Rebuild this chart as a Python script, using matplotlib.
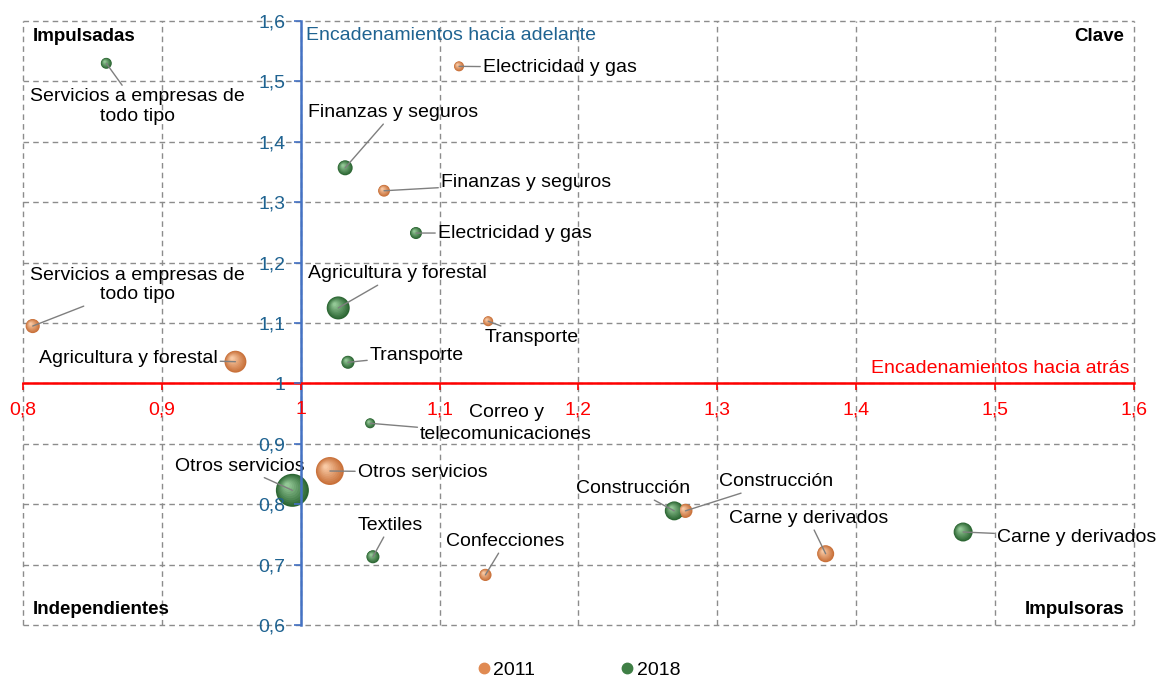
import numpy as np
import matplotlib
matplotlib.use("Agg")
import matplotlib.pyplot as plt
from matplotlib.lines import Line2D
from matplotlib.colors import to_rgb
from matplotlib.transforms import offset_copy

plt.rcParams['font.family'] = ['Liberation Sans', 'DejaVu Sans']

# datos 2011 (naranja)
sect_2011 = ["Servicios a empresas de\ntodo tipo", "Agricultura y forestal", "Electricidad y gas",
             "Finanzas y seguros", "Transporte", "Otros servicios", "Confecciones",
             "Construcción", "Carne y derivados"]
atras_2011 = [0.807, 0.953, 1.114, 1.060, 1.135, 1.021, 1.133, 1.277, 1.378]
adelante_2011 = [1.095, 1.036, 1.525, 1.319, 1.103, 0.855, 0.683, 0.789, 0.718]
peso_2011 = [2.0, 4.8, 1.0, 1.4, 1.0, 7.8, 1.5, 2.0, 2.9]

# datos 2018 (verde)
sect_2018 = ["Servicios a empresas de\ntodo tipo", "Finanzas y seguros", "Electricidad y gas",
             "Agricultura y forestal", "Transporte", "Correo y\ntelecomunicaciones",
             "Otros servicios", "Textiles", "Construcción", "Carne y derivados"]
atras_2018 = [0.860, 1.032, 1.083, 1.027, 1.034, 1.050, 0.994, 1.052, 1.269, 1.477]
adelante_2018 = [1.530, 1.357, 1.249, 1.125, 1.035, 0.934, 0.823, 0.713, 0.789, 0.754]
peso_2018 = [1.2, 2.25, 1.44, 5.3, 1.7, 1.0, 10.9, 1.7, 3.6, 3.6]

xticks = [0.8, 0.9, 1.0, 1.1, 1.2, 1.3, 1.4, 1.5, 1.6]
yticks = [0.6, 0.7, 0.8, 0.9, 1.0, 1.1, 1.2, 1.3, 1.4, 1.5, 1.6]

# posiciones de etiquetas (offset en pixeles, alineacion)
lab_2011 = [(105, 41, 'center'), (-18, 3, 'right'), (24, -1, 'left'), (57, 8, 'left'),
            (43, -16, 'center'), (28, -1, 'left'), (20, 33, 'center'), (34, 29, 'left'),
            (-17, 35, 'center')]
lab_2018 = [(31, -43, 'center'), (48, 55, 'center'), (22, 0, 'left'), (59, 34, 'center'),
            (22, 7, 'left'), (136, 0, 'center'), (-53, 24, 'center'), (17, 31, 'center'),
            (-41, 22, 'center'), (34, -5, 'left')]

ORANGE = ("#C9713A", "#F8C9A4")
GREEN = ("#2C6633", "#93C896")


def fmt(v):
    s = ("%.1f" % v).replace(".", ",")
    return "1" if s == "1,0" else s


def bubbles(ax, xs, ys, ws, colors):
    dark = np.array(to_rgb(colors[0]))
    light = np.array(to_rgb(colors[1]))
    n = 10
    for x, y, w in zip(xs, ys, ws):
        d = np.sqrt(w * 51.84)  # diametro en puntos
        for k in range(n):
            f = k / (n - 1)
            c = dark * (1 - f) + light * f
            dk = d * (1 - 0.85 * f)
            off = (d - dk) * 0.18
            tr = offset_copy(ax.transData, fig=ax.figure, x=-off, y=off, units='points')
            ax.scatter([x], [y], s=dk ** 2, color=c, edgecolors='none',
                       transform=tr, zorder=5 + k * 0.01)


fig = plt.figure(figsize=(11.61, 6.79), dpi=100)
ax = fig.add_axes([0.0198, 0.0795, 0.9569, 0.8895])
ax.set_xlim(0.8, 1.6)
ax.set_ylim(0.6, 1.6)

ax.set_xticks(xticks)
ax.set_yticks(yticks)
ax.set_xticklabels([fmt(v) for v in xticks])
ax.set_yticklabels([fmt(v) for v in yticks])

# cuadricula punteada
for v in xticks:
    ax.axvline(v, color="#8c8c8c", linestyle=(0, (4, 3)), linewidth=1.0, zorder=1, clip_on=False)
for v in yticks:
    ax.axhline(v, color="#8c8c8c", linestyle=(0, (4, 3)), linewidth=1.0, zorder=1, clip_on=False)

for sp in ['top', 'right']:
    ax.spines[sp].set_visible(False)
ax.spines['left'].set_position(('data', 1.0))
ax.spines['bottom'].set_position(('data', 1.0))
ax.spines['left'].set_color("#4472C4")
ax.spines['left'].set_linewidth(1.8)
ax.spines['bottom'].set_color("#FF0000")
ax.spines['bottom'].set_linewidth(1.8)
ax.spines['left'].set_zorder(20)
ax.spines['bottom'].set_zorder(20)
ax.xaxis.set_zorder(21)
ax.yaxis.set_zorder(21)
ax.tick_params(axis='y', colors="#4472C4", labelcolor="#1F6391", labelsize=14, length=5, width=1.2, pad=6)
ax.tick_params(axis='x', colors="#FF0000", labelcolor="#FF0000", labelsize=14, length=5, width=1.2, pad=8)

bubbles(ax, atras_2011, adelante_2011, peso_2011, ORANGE)
bubbles(ax, atras_2018, adelante_2018, peso_2018, GREEN)

for names, xs, ys, labs in [(sect_2011, atras_2011, adelante_2011, lab_2011),
                            (sect_2018, atras_2018, adelante_2018, lab_2018)]:
    for name, x, y, (dx, dy, ha) in zip(names, xs, ys, labs):
        if name.startswith("Correo"):
            # dos lineas separadas para no tapar las etiquetas del eje
            top, bottom = name.split("\n")
            ax.annotate(top, xy=(x, y), xytext=(dx, dy + 11), textcoords='offset pixels',
                        ha='center', va='center', fontsize=14, zorder=8)
            ax.annotate(bottom, xy=(x, y), xytext=(dx, dy - 11), textcoords='offset pixels',
                        ha='center', va='center', fontsize=14, zorder=8,
                        arrowprops=dict(arrowstyle='-', color='#7f7f7f', lw=1.0,
                                        shrinkA=0, shrinkB=0, relpos=(0, 0.9)))
            continue
        ax.annotate(name, xy=(x, y), xytext=(dx, dy), textcoords='offset pixels',
                    ha=ha, va='center', fontsize=14, multialignment='center', zorder=8,
                    arrowprops=dict(arrowstyle='-', color='#7f7f7f', lw=1.0,
                                    shrinkA=0, shrinkB=0))

ax.text(1.004, 1.59, "Encadenamientos hacia adelante", color="#1F6391", fontsize=14,
        ha='left', va='top')
ax.text(1.597, 1.01, "Encadenamientos hacia atrás", color="#FF0000", fontsize=14,
        ha='right', va='bottom')

ax.text(0.807, 1.575, "Impulsadas", fontsize=13.5, fontweight='bold', ha='left', va='center')
ax.text(1.593, 1.575, "Clave", fontsize=13.5, fontweight='bold', ha='right', va='center')
ax.text(0.807, 0.625, "Independientes", fontsize=13.5, fontweight='bold', ha='left', va='center')
ax.text(1.593, 0.625, "Impulsoras", fontsize=13.5, fontweight='bold', ha='right', va='center')

handles = [Line2D([], [], marker='o', linestyle='none', markersize=7.5, color="#E08A52", label='2011'),
           Line2D([], [], marker='o', linestyle='none', markersize=7.5, color="#3F7F45", label='2018')]
fig.legend(handles=handles, loc='center', bbox_to_anchor=(0.497, 0.013), ncol=2, frameon=False,
           fontsize=14, handletextpad=0.0, columnspacing=4.2, handlelength=1.0)

fig.savefig("out.png", dpi=100)
